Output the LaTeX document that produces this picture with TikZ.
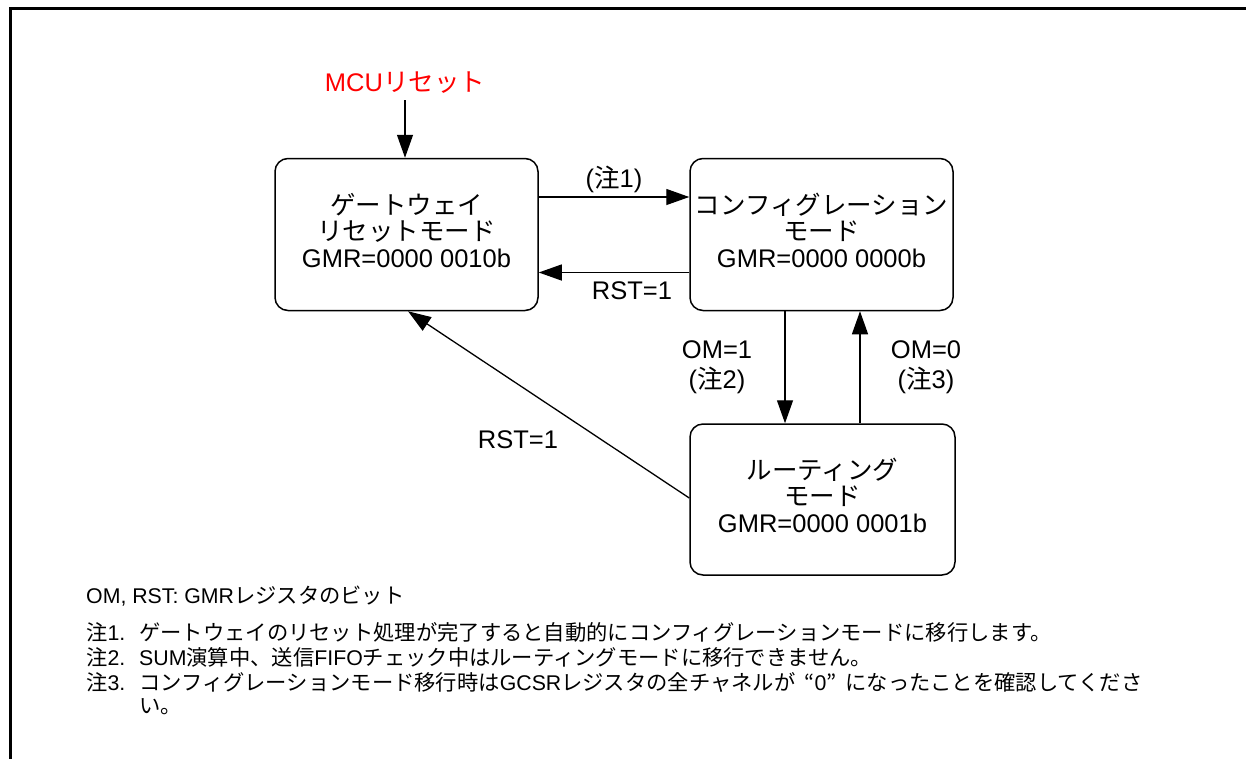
\documentclass[tikz,border=0pt]{standalone}
\usepackage{fontspec}
\setmainfont{Liberation Sans}
\newfontfamily\jp{Noto Sans CJK JP}
\newcommand\J[1]{{\jp #1}}
\usetikzlibrary{arrows.meta}
\definecolor{mcured}{RGB}{255,0,0}
\tikzset{
  statebox/.style={draw, line width=1.5pt, rounded corners=13pt, minimum width=263pt, minimum height=152pt, align=center, inner sep=0pt, font=\fontsize{25.5}{26.5}\selectfont},
  lbl/.style={align=center, inner sep=0pt, font=\fontsize{25.5}{30}\selectfont},
  note/.style={anchor=west, inner sep=0pt, font=\fontsize{21.3}{25}\selectfont},
  arr/.style={line width=1.3pt, -{Triangle[length=23pt,width=16pt]}},
  frame/.style={line width=3pt}
}
\begin{document}
\begin{tikzpicture}[x=1pt,y=-1pt]
\useasboundingbox (0,0) rectangle (1246,758);
\coordinate (ftl) at (10,8);
\coordinate (ftr) at (1250,8);
\coordinate (fbl) at (10,762);
\draw[frame] (fbl) -- (ftl) -- (ftr);

\node[statebox] (gw) at (406.5,234.5) {\J{ゲートウェイ}\\\J{リセットモード}\\GMR=0000 0010b\\[-18pt]};
\node[statebox] (cfg) at (821.5,234.5) {\J{コンフィグレーション}\\\J{モード}\\GMR=0000 0000b\\[-18pt]};
\node[statebox, minimum width=265pt, minimum height=151pt] (rt) at (822.5,499.5) {\J{ルーティング}\\\J{モード}\\GMR=0000 0001b\\[-18pt]};

\node[lbl, text=mcured] (mcu) at (405,83) {MCU\J{リセット}};
\draw[arr] ([yshift=-6pt]mcu.south) -- (mcu.south |- gw.north);

\draw[arr] ([yshift=37.5pt]gw.east) -- ([yshift=37.5pt]cfg.west);
\node[lbl] (n1) at (614,179) {(\J{注}1)};
\draw[arr] ([yshift=-38pt]cfg.west) -- ([yshift=-38pt]gw.east);
\node[lbl] (r1) at (632,291) {RST=1};

\draw[arr] ([xshift=-36.5pt]cfg.south) -- ([xshift=-37.5pt]rt.north);
\node[lbl] (om1) at (717,367) {OM=1\\(\J{注}2)};
\draw[arr] ([xshift=37.5pt]rt.north) -- ([xshift=38.5pt]cfg.south);
\node[lbl] (om0) at (926,367) {OM=0\\(\J{注}3)};

\draw[arr] ([yshift=1.5pt]rt.west) -- ([xshift=1.5pt]gw.south);
\node[lbl] (r2) at (518,440) {RST=1};

\node[note] (t0) at (86,596) {OM, RST: GMR\J{レジスタのビット}};
\node[note] (t1) at (86,632) {\J{注}1.};
\node[note] (t1b) at (139,632) {\J{ゲートウェイのリセット処理が完了すると自動的にコンフィグレーションモードに移行します。}};
\node[note] (t2) at (86,657) {\J{注}2.};
\node[note] (t2b) at (139,657) {SUM\J{演算中、送信}FIFO\J{チェック中はルーティングモードに移行できません。}};
\node[note] (t3) at (86,682) {\J{注}3.};
\node[note] (t3b) at (139,682) {\J{コンフィグレーションモード移行時は}GCSR\J{レジスタの全チャネルが}\hspace{9pt}\J{“}0\J{”}\hspace{9pt}\J{になったことを確認してくださ}};
\node[note] (t3c) at (139,707) {\J{い。}};
\end{tikzpicture}
\end{document}
